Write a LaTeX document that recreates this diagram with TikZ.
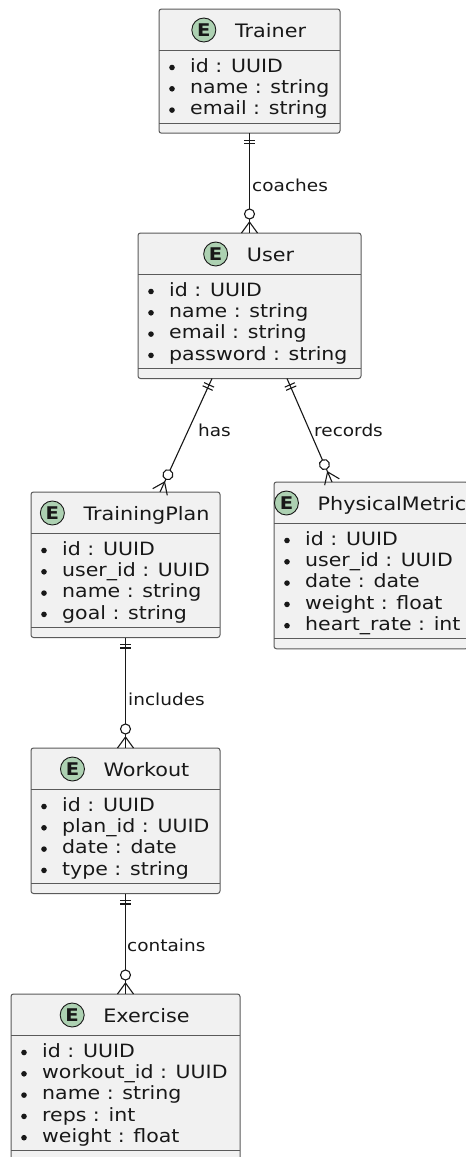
\documentclass[tikz,border=0pt]{standalone}
\usepackage{fontspec}
\setmainfont{DejaVu Sans}[FakeStretch=1.12]
\usetikzlibrary{calc,decorations.markings}

\definecolor{entfill}{HTML}{F1F1F1}
\definecolor{entline}{HTML}{5A5A5A}
\definecolor{ink}{HTML}{181818}
\definecolor{egreen}{HTML}{ADD1B2}

\tikzset{
  entity/.style={draw=entline, fill=entfill, line width=1pt, rounded corners=2.5pt,
    inner sep=0pt, outer sep=0pt, anchor=north west},
  sepline/.style={draw=entline, line width=1pt},
  attr/.style={font=\fontsize{18.3}{21}\selectfont, text=ink, inner sep=0pt, anchor=base west},
  etitle/.style={font=\fontsize{18.5}{22}\selectfont, text=ink, inner sep=0pt, anchor=base},
  ebadge/.style={circle, draw=ink, fill=egreen, line width=0.9pt, minimum size=24pt,
    inner sep=0pt, font=\fontsize{17.5}{17.5}\selectfont\bfseries, text=ink},
  rlabel/.style={font=\fontsize{16.5}{18}\selectfont, text=ink, inner sep=0pt, anchor=base west},
  relmark/.style={draw=ink, line width=1.1pt},
  % one-and-only-one at the start, zero-or-many at the end
  relation/.style={draw=ink, line width=1.1pt, postaction={decorate},
    decoration={markings,
      mark=at position 7pt with {\draw[relmark] (0pt,-5.5pt) -- (0pt,5.5pt);},
      mark=at position 10.5pt with {\draw[relmark] (0pt,-5.5pt) -- (0pt,5.5pt);},
      mark=at position -19pt with {\draw[relmark, fill=white] (0pt,0pt) circle (5pt);},
      mark=at position -11pt with {\draw[relmark] (11pt,-8pt) -- (0pt,0pt) -- (11pt,8pt);}}}
}

% #1 name, #2 left, #3 right, #4 top, #5 number of fields, #6 title, #7 fields
\newcommand\erentity[7]{%
  \pgfmathsetmacro\erbot{#4+56.6+21.3*(#5-1)+25}%
  \pgfmathsetmacro\erw{#3-#2}%
  \pgfmathsetmacro\erh{\erbot-#4}%
  \node[entity, minimum width=\erw pt, minimum height=\erh pt] (#1) at (#2,#4) {};
  \draw[sepline] ($(#1.north west)+(0,41)$) -- ($(#1.north east)+(0,41)$);
  \draw[sepline] ($(#1.south west)+(0,-10)$) -- ($(#1.south east)+(0,-10)$);
  \node[etitle] (#1-title) at ({(#2+#3)/2+21}, #4+28) {#6};
  \node[ebadge] (#1-badge) at ($(#1-title.base west)+(-31,-7)$) {E};
  \foreach \f [count=\i from 0] in {#7} {
    \pgfmathsetmacro\yy{#4+56.6+21.3*\i}
    \fill[ink] (#2+13,\yy+1.9) circle (2.8pt);
    \node[attr] (#1-f\i) at (#2+31,\yy+6.7) {\f};
  }
}

\begin{document}
\begin{tikzpicture}[x=1pt, y=-1pt]
  \useasboundingbox (0,0) rectangle (466,1157);
  \clip (0,0) rectangle (466,1157);
  \fill[white] (0,0) rectangle (466,1157);

  \erentity{trainer}{159}{340}{9}{3}{Trainer}
    {id : UUID, name : string, email : string}
  \erentity{user}{138}{361}{233}{4}{User}
    {id : UUID, name : string, email : string, password : string}
  \erentity{tplan}{31}{220}{492}{4}{TrainingPlan}
    {id : UUID, user\_id : UUID, name : string, goal : string}
  \erentity{pmetric}{274}{468}{482}{5}{PhysicalMetric}
    {id : UUID, user\_id : UUID, date : date, weight : float, heart\_rate : int}
  \erentity{workout}{31}{220}{748}{4}{Workout}
    {id : UUID, plan\_id : UUID, date : date, type : string}
  \erentity{exercise}{11}{240}{994}{5}{Exercise}
    {id : UUID, workout\_id : UUID, name : string, reps : int, weight : float}

  % relationships
  \draw[relation] (trainer.south) -- (user.north);
  \draw[relation] ($(user.south)+(-37.5,0)$) -- ($(tplan.north)+(34.5,0)$);
  \draw[relation] ($(user.south)+(37.5,0)$) -- ($(pmetric.north)+(-39,0)$);
  \draw[relation] (tplan.south) -- (workout.north);
  \draw[relation] (workout.south) -- (exercise.north);

  \node[rlabel] (lbl-coaches) at (252,191.5) {coaches};
  \node[rlabel] (lbl-has) at (198,436) {has};
  \node[rlabel] (lbl-records) at (314,436) {records};
  \node[rlabel] (lbl-includes) at (128,705) {includes};
  \node[rlabel] (lbl-contains) at (127,951.5) {contains};
\end{tikzpicture}
\end{document}
